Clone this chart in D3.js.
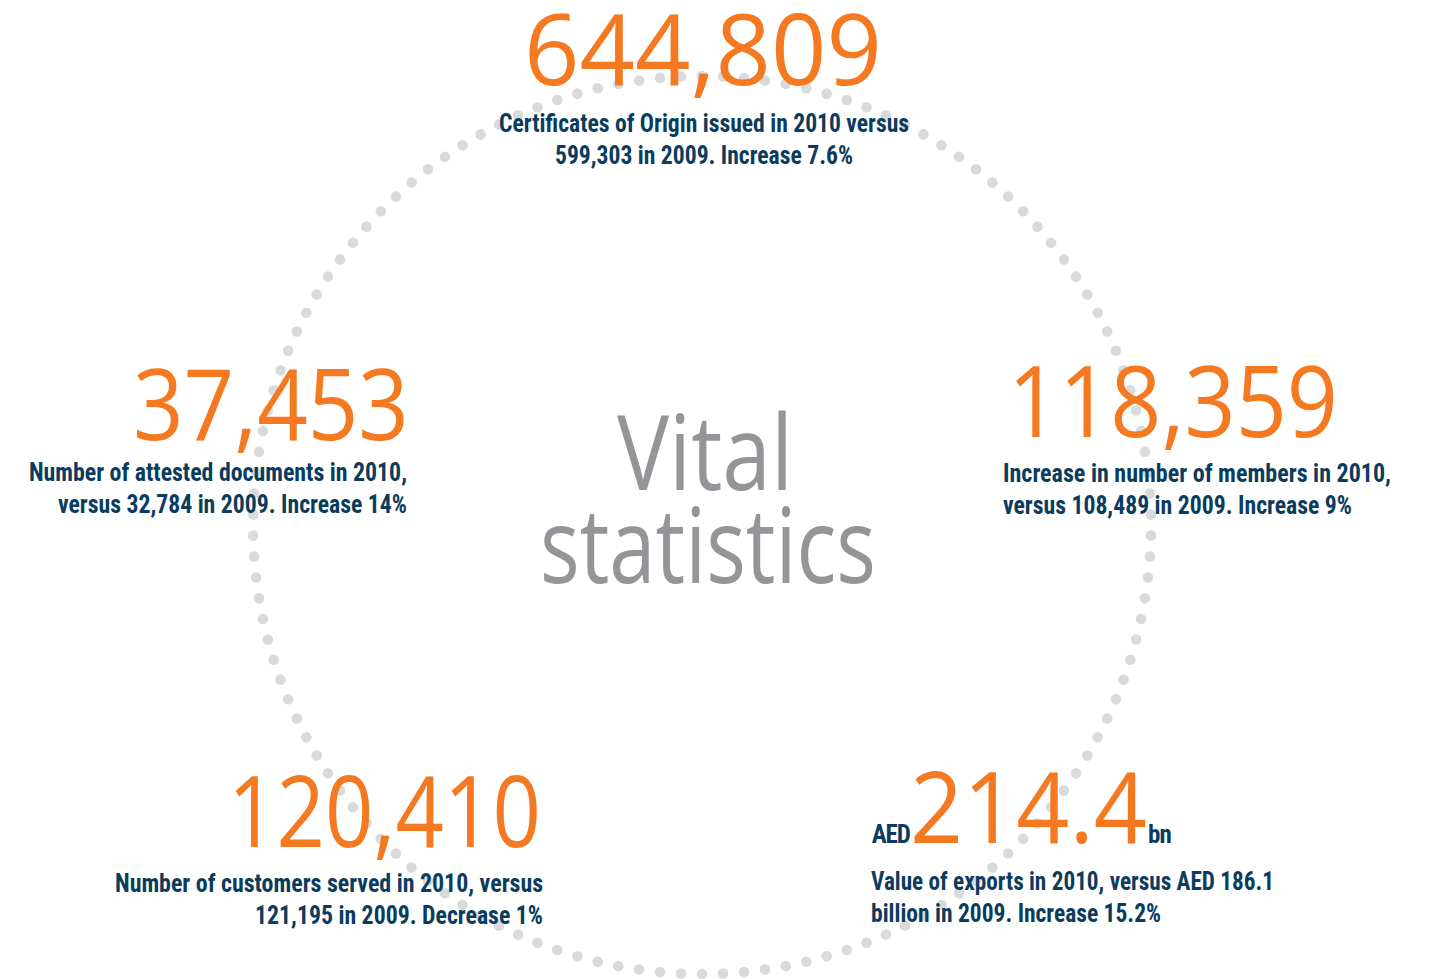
<!DOCTYPE html>
<html>
<head>
<meta charset="utf-8">
<script src="https://cdn.jsdelivr.net/npm/d3@7"></script>
<style>
	body { margin: 0; background: #fff; }
</style>
</head>
<body>
<div id="chart-area"></div>
<script>
// chart values
let statValues = ["644,809", "118,359", "214.4", "120,410", "37,453"];
let statPrefix = ["", "", "AED", "", ""];
let statSuffix = ["", "", "bn", "", ""];
let statNotes = [
	["Certificates of Origin issued in 2010 versus", "599,303 in 2009. Increase 7.6%"],
	["Increase in number of members in 2010,", "versus 108,489 in 2009. Increase 9%"],
	["Value of exports in 2010, versus AED 186.1", "billion in 2009. Increase 15.2%"],
	["Number of customers served in 2010, versus", "121,195 in 2009. Decrease 1%"],
	["Number of attested documents in 2010,", "versus 32,784 in 2009. Increase 14%"]
];
let titleLines = ["Vital", "statistics"];
let dotCount = 134;

// where each block sits (value baseline + note lines)
let layout = [
	{anchor: "middle", x: 703, y: 85, len: 358, noteX: 704, noteY: 132, noteLen: [410, 298]},
	{anchor: "start", x: 1008, y: 437, len: 330, noteX: 1003, noteY: 482, noteLen: [388, 349]},
	{anchor: "start", x: 910, y: 843, len: 237, noteX: 871, noteY: 890, noteLen: [403, 290]},
	{anchor: "end", x: 541, y: 847, len: 313, noteX: 543, noteY: 892, noteLen: [428, 288]},
	{anchor: "end", x: 409, y: 440, len: 276, noteX: 407, noteY: 481, noteLen: [378, 349]}
];

let width = 1430;
let height = 979;

let orange = "#f47920";
let navy = "#0b3c5d";
let noteFont = "'Liberation Sans Narrow', 'Roboto Condensed', Roboto, sans-serif";
let bigFont = "'Open Sans', 'Noto Sans', sans-serif";

let svg = d3.select("#chart-area").append("svg")
	.attr("width", width)
	.attr("height", height);

// dotted ring
let cx = 702, cy = 525, r = 449;
let angle = d3.scaleLinear()
	.domain([0, dotCount])
	.range([0, 2 * Math.PI]);

svg.append("g")
	.attr("class", "ring")
	.selectAll("circle")
	.data(d3.range(dotCount))
	.enter()
	.append("circle")
	.attr("cx", i => cx + r * Math.sin(angle(i)))
	.attr("cy", i => cy + r * Math.cos(angle(i)))
	.attr("r", 5.3)
	.attr("fill", "#d9dadc");

// title in the middle
svg.append("g")
	.selectAll("text")
	.data(titleLines)
	.enter()
	.append("text")
	.attr("x", (d, i) => i === 0 ? 617 : 540)
	.attr("y", (d, i) => i === 0 ? 490 : 583)
	.attr("textLength", (d, i) => i === 0 ? 176 : 336)
	.attr("lengthAdjust", "spacingAndGlyphs")
	.attr("font-family", bigFont)
	.attr("font-size", 104)
	.attr("fill", "#939598")
	.text(d => d);

// stat blocks
let blocks = svg.selectAll(".stat")
	.data(statValues)
	.enter()
	.append("g")
	.attr("class", "stat");

blocks.append("text")
	.attr("x", (d, i) => layout[i].x)
	.attr("y", (d, i) => layout[i].y)
	.attr("text-anchor", (d, i) => layout[i].anchor)
	.attr("textLength", (d, i) => layout[i].len)
	.attr("lengthAdjust", "spacingAndGlyphs")
	.attr("font-family", bigFont)
	.attr("font-size", 98)
	.attr("fill", orange)
	.text(d => d);

// AED / bn around the export value
blocks.filter((d, i) => statPrefix[i] !== "")
	.append("text")
	.attr("x", (d, i) => layout[statValues.indexOf(d)].x)
	.attr("y", (d, i) => layout[statValues.indexOf(d)].y)
	.attr("text-anchor", "end")
	.attr("font-family", noteFont)
	.attr("font-weight", 700)
	.attr("font-size", 25)
	.attr("letter-spacing", -1)
	.attr("fill", navy)
	.text(d => statPrefix[statValues.indexOf(d)]);

blocks.filter((d, i) => statSuffix[i] !== "")
	.append("text")
	.attr("x", d => layout[statValues.indexOf(d)].x + layout[statValues.indexOf(d)].len + 1)
	.attr("y", d => layout[statValues.indexOf(d)].y)
	.attr("font-family", noteFont)
	.attr("font-weight", 700)
	.attr("font-size", 25)
	.attr("letter-spacing", -1)
	.attr("fill", navy)
	.text(d => statSuffix[statValues.indexOf(d)]);

// two note lines under each value
blocks.each(function(d, i) {
	let l = layout[i];
	d3.select(this).selectAll(".note")
		.data(statNotes[i])
		.enter()
		.append("text")
		.attr("class", "note")
		.attr("x", l.noteX)
		.attr("y", (t, j) => l.noteY + j * 31.5)
		.attr("text-anchor", l.anchor)
		.attr("textLength", (t, j) => l.noteLen[j])
		.attr("lengthAdjust", "spacingAndGlyphs")
		.attr("font-family", noteFont)
		.attr("font-weight", 700)
		.attr("font-size", 25)
		.attr("fill", navy)
		.text(t => t);
});
</script>
</body>
</html>
